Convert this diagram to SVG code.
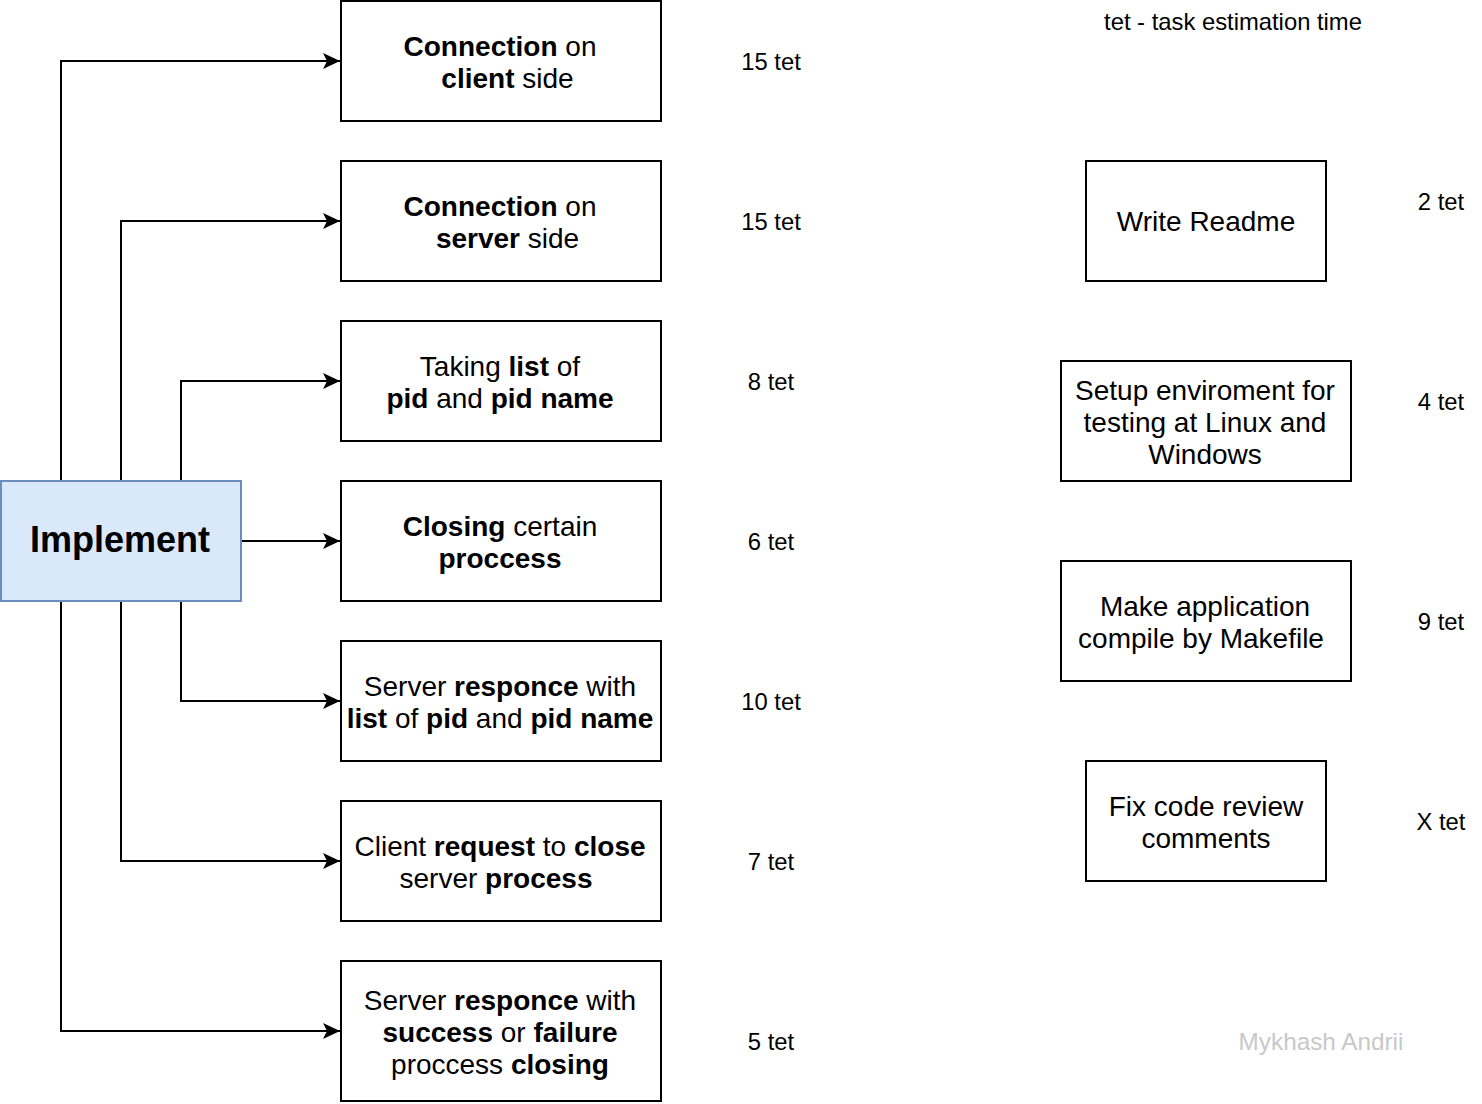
<svg xmlns="http://www.w3.org/2000/svg" width="1482" height="1104" viewBox="0 0 1482 1104">
<style>
.box{fill:#ffffff;stroke:#000000;stroke-width:2}
.impl{fill:#dae8fc;stroke:#6c8ebf;stroke-width:2}
.t{font-family:"Liberation Sans",Arial,sans-serif;font-size:28px;fill:#000;text-anchor:middle}
.b{font-weight:bold}
.tet{font-family:"Liberation Sans",Arial,sans-serif;font-size:23.8px;fill:#000;text-anchor:middle}
.sig{font-family:"Liberation Sans",Arial,sans-serif;font-size:24.3px;fill:#c8c8c8;text-anchor:middle}
.edge{fill:none;stroke:#000;stroke-width:2;marker-end:url(#arr)}
</style>
<defs>
<marker id="arr" markerUnits="userSpaceOnUse" markerWidth="18" markerHeight="18" refX="17" refY="8" orient="auto">
<path d="M0,0 L17,8 L0,16 L4,8 Z" fill="#000"/>
</marker>
</defs>
<rect width="1482" height="1104" fill="#ffffff"/>
<g id="connectors">
<path class="edge" d="M61,481 V61 H340"/>
<path class="edge" d="M121,481 V221 H340"/>
<path class="edge" d="M181,481 V381 H340"/>
<path class="edge" d="M241,541 H340"/>
<path class="edge" d="M181,601 V701 H340"/>
<path class="edge" d="M121,601 V861 H340"/>
<path class="edge" d="M61,601 V1031 H340"/>
</g>
<g id="implement">
<rect class="impl" x="1" y="481" width="240" height="120"/>
<text class="t b" x="120" y="552" style="font-size:36px">Implement</text>
</g>
<g id="n1">
<rect class="box" x="341" y="1" width="320" height="120"/>
<text class="t" x="500" y="56"><tspan class="b">Connection</tspan> on</text>
<text class="t" x="507.5" y="88"><tspan class="b">client</tspan> side</text>
</g>
<g id="n2">
<rect class="box" x="341" y="161" width="320" height="120"/>
<text class="t" x="500" y="216"><tspan class="b">Connection</tspan> on</text>
<text class="t" x="507.5" y="248"><tspan class="b">server</tspan> side</text>
</g>
<g id="n3">
<rect class="box" x="341" y="321" width="320" height="120"/>
<text class="t" x="500" y="376">Taking <tspan class="b">list</tspan> of</text>
<text class="t" x="500" y="408"><tspan class="b">pid</tspan> and <tspan class="b">pid name</tspan></text>
</g>
<g id="n4">
<rect class="box" x="341" y="481" width="320" height="120"/>
<text class="t" x="500" y="536"><tspan class="b">Closing</tspan> certain</text>
<text class="t b" x="500" y="568">proccess</text>
</g>
<g id="n5">
<rect class="box" x="341" y="641" width="320" height="120"/>
<text class="t" x="500" y="696">Server <tspan class="b">responce</tspan> with</text>
<text class="t" x="500" y="728"><tspan class="b">list</tspan> of <tspan class="b">pid</tspan> and <tspan class="b">pid name</tspan></text>
</g>
<g id="n6">
<rect class="box" x="341" y="801" width="320" height="120"/>
<text class="t" x="500" y="856">Client <tspan class="b">request</tspan> to <tspan class="b">close</tspan></text>
<text class="t" x="496" y="888">server <tspan class="b">process</tspan></text>
</g>
<g id="n7">
<rect class="box" x="341" y="961" width="320" height="140"/>
<text class="t" x="500" y="1010">Server <tspan class="b">responce</tspan> with</text>
<text class="t" x="500" y="1042"><tspan class="b">success</tspan> or <tspan class="b">failure</tspan></text>
<text class="t" x="500" y="1074">proccess <tspan class="b">closing</tspan></text>
</g>
<g id="estimates">
<text class="tet" x="771" y="70">15 tet</text>
<text class="tet" x="771" y="230">15 tet</text>
<text class="tet" x="771" y="390">8 tet</text>
<text class="tet" x="771" y="550">6 tet</text>
<text class="tet" x="771" y="710">10 tet</text>
<text class="tet" x="771" y="870">7 tet</text>
<text class="tet" x="771" y="1050">5 tet</text>
<text class="tet" x="1441" y="210">2 tet</text>
<text class="tet" x="1441" y="410">4 tet</text>
<text class="tet" x="1441" y="630">9 tet</text>
<text class="tet" x="1441" y="830">X tet</text>
</g>
<g id="legend">
<text class="tet" x="1233" y="30">tet - task estimation time</text>
</g>
<g id="r1">
<rect class="box" x="1086" y="161" width="240" height="120"/>
<text class="t" x="1206" y="231">Write Readme</text>
</g>
<g id="r2">
<rect class="box" x="1061" y="361" width="290" height="120"/>
<text class="t" x="1205" y="400">Setup enviroment for</text>
<text class="t" x="1205" y="432">testing at Linux and</text>
<text class="t" x="1205" y="464">Windows</text>
</g>
<g id="r3">
<rect class="box" x="1061" y="561" width="290" height="120"/>
<text class="t" x="1205" y="616">Make application</text>
<text class="t" x="1201" y="648">compile by Makefile</text>
</g>
<g id="r4">
<rect class="box" x="1086" y="761" width="240" height="120"/>
<text class="t" x="1206" y="816">Fix code review</text>
<text class="t" x="1206" y="848">comments</text>
</g>
<g id="signature">
<text class="sig" x="1321" y="1050">Mykhash Andrii</text>
</g>
</svg>
